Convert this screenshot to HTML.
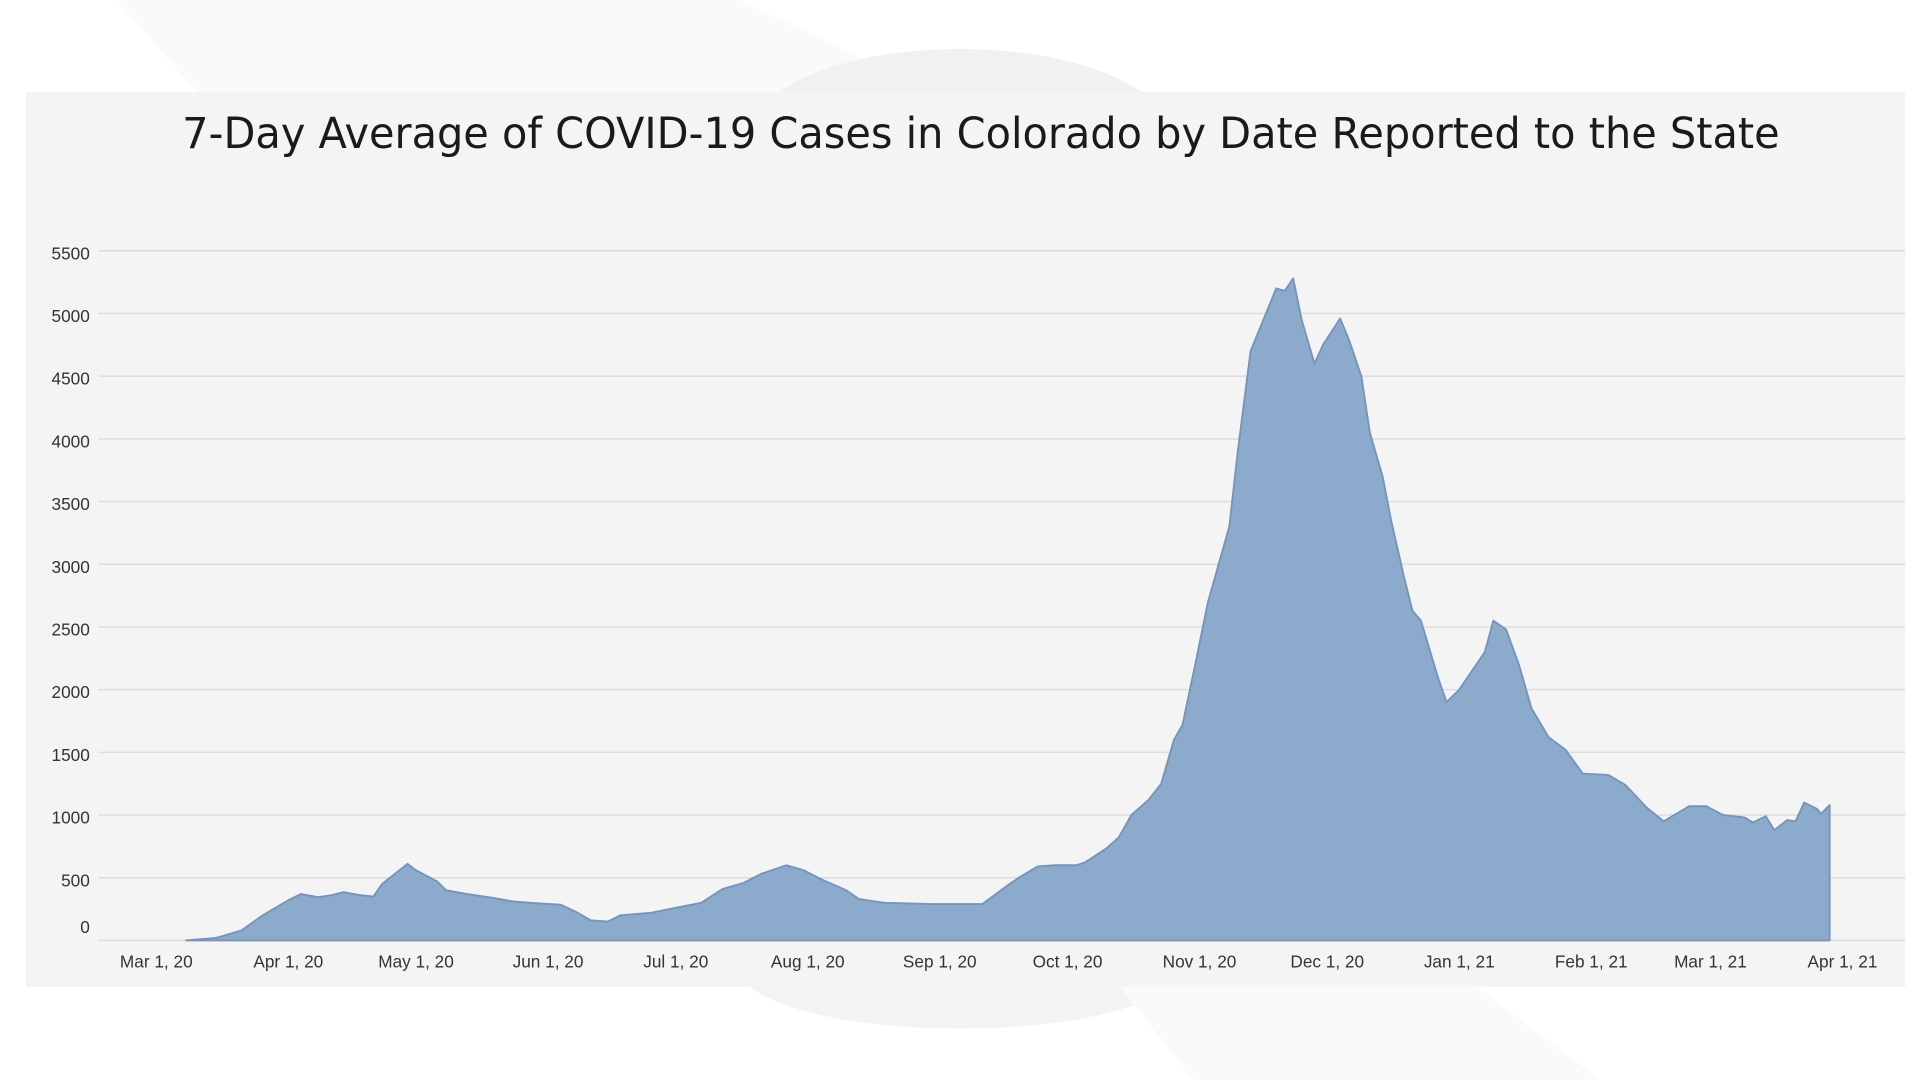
<!DOCTYPE html>
<html><head><meta charset="utf-8">
<style>
html,body{margin:0;padding:0;width:1920px;height:1080px;overflow:hidden;background:#fff;font-family:"Liberation Sans","DejaVu Sans",sans-serif;}
svg{display:block}
</style></head>
<body>
<svg id="chart" width="1920" height="1080" viewBox="0 0 1560 882" preserveAspectRatio="none" xmlns="http://www.w3.org/2000/svg">
  <polygon points="95,0 600,0 760,75 160,75" fill="#fafafa"/>
  <ellipse cx="780" cy="110" rx="170" ry="70" fill="#f1f1f1"/>
  <ellipse cx="780" cy="790" rx="180" ry="50" fill="#f3f3f3"/>
  <polygon points="910,806 1200,806 1300,882 970,882" fill="#fafafa"/>
  <rect x="21" y="75" width="1527" height="731" fill="#f4f4f4"/>
  <text x="797" y="121" text-anchor="middle" font-size="35" fill="#1a1a1a" textLength="1298" lengthAdjust="spacingAndGlyphs" font-family="DejaVu Sans, Liberation Sans, sans-serif">7-Day Average of COVID-19 Cases in Colorado by Date Reported to the State</text>
  <g id="grid"></g>
  <g id="marks"></g>
  <g id="xaxis"></g>
</svg>
<script>
const yTicks = [0,500,1000,1500,2000,2500,3000,3500,4000,4500,5000,5500];
const monthLabels = ["Mar 1, 20","Apr 1, 20","May 1, 20","Jun 1, 20","Jul 1, 20","Aug 1, 20","Sep 1, 20","Oct 1, 20","Nov 1, 20","Dec 1, 20","Jan 1, 21","Feb 1, 21","Mar 1, 21","Apr 1, 21"];
const monthDays = [0,31,61,92,122,153,184,214,245,275,306,337,365,396];
const days = [7,14,20,25,31,34,38,41,44,48,51,53,56,59,61,66,68,73,79,84,90,95,99,102,106,109,116,122,128,133,138,142,148,152,156,162,165,171,182,191,194,200,203,207,211,216,218,223,226,229,233,236,239,241,244,247,252,254,257,260,263,265,267,269,272,274,278,280,283,285,288,290,293,295,297,301,303,306,309,312,314,317,320,323,327,331,335,341,345,350,354,360,364,368,373,375,378,380,383,385,387,390,391,393];
const cases = [0,20,80,200,320,370,345,360,385,360,350,450,530,610,560,470,400,370,340,310,295,285,220,160,150,200,220,260,300,410,460,530,600,560,490,400,330,300,290,290,290,440,510,590,600,600,620,730,820,1000,1120,1250,1600,1720,2200,2700,3300,3900,4700,4950,5200,5180,5280,4950,4600,4750,4960,4800,4500,4050,3700,3350,2900,2630,2550,2100,1900,2000,2150,2300,2550,2480,2200,1850,1620,1520,1330,1320,1240,1060,950,1070,1070,1000,980,940,990,880,960,950,1100,1050,1010,1080];

const NS = "http://www.w3.org/2000/svg";
const X0 = 127, PXDAY = 1370/396, Y0 = 768, PXVAL = 51.2/500;
function xs(d){ return X0 + d*PXDAY; }
function ys(v){ return Y0 - v*PXVAL; }
function mk(tag, attrs, parent){ const e=document.createElementNS(NS,tag); for(const k in attrs) e.setAttribute(k,attrs[k]); parent.appendChild(e); return e; }

const grid = document.getElementById('grid');
yTicks.forEach(v=>{
  const l = mk('line',{x1:80,x2:1548,y1:ys(v),y2:ys(v),stroke:'#dcdcdc','stroke-width':1.2},grid);
  
  
  const t = mk('text',{x:73,y: v===0 ? ys(v)-6 : ys(v)+7,'text-anchor':'end','font-size':14,fill:'#333'},grid);
  
  
  t.textContent = v;
});

const marks = document.getElementById('marks');
let d = 'M'+xs(days[0])+','+ys(0);
days.forEach((dd,i)=>{ d += ' L'+xs(dd).toFixed(1)+','+ys(cases[i]).toFixed(1); });
d += ' L'+xs(days[days.length-1]).toFixed(1)+','+ys(0)+' Z';
const area = mk('path',{d:d,fill:'#8caacb',stroke:'#7793b7','stroke-width':1.5,'stroke-linejoin':'round'},marks);



const xa = document.getElementById('xaxis');
monthLabels.forEach((lab,i)=>{
  const t = mk('text',{x:xs(monthDays[i]),y:790,'text-anchor':'middle','font-size':14,fill:'#333'},xa);
  
  
  t.textContent = lab;
});
</script>
</body></html>
